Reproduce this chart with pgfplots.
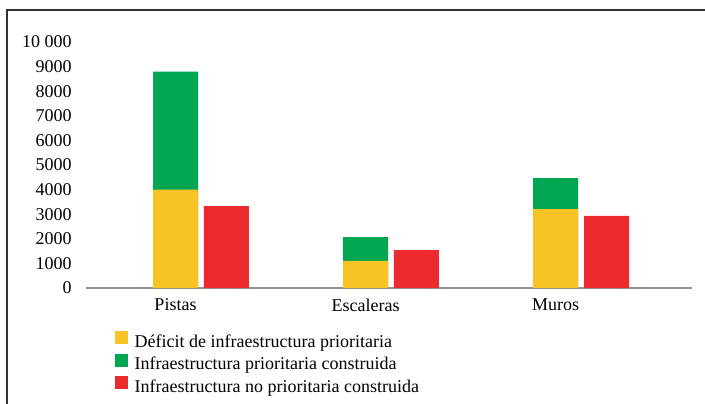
\documentclass[border=0pt]{standalone}
\usepackage{fontspec}
\setmainfont{Liberation Serif}
\usepackage{pgfplots}
\pgfplotsset{compat=1.18}
\definecolor{cyel}{RGB}{247,195,37}
\definecolor{cgrn}{RGB}{0,166,81}
\definecolor{cred}{RGB}{237,43,47}
\begin{document}
\begin{tikzpicture}
\useasboundingbox (0pt,0pt) rectangle (528.75pt,302.25pt);
\draw[line width=1.4pt, color=black!80] (5.25pt,-2pt) -- (5.25pt,294.75pt) -- (530pt,294.75pt);
\begin{axis}[
  scale only axis, width=454.5pt, height=184.5pt,
  at={(64.5pt,86.25pt)}, anchor=south west,
  xmin=-0.471, xmax=2.718, ymin=0, ymax=10000,
  scaled y ticks=false,
  axis lines*=left,
  x axis line style={color=gray!85, line width=0.9pt, -},
  y axis line style={draw=none},
  xtick={0,1,2}, xticklabels={Pistas,Escaleras,Muros},
  ytick={0,1000,2000,3000,4000,5000,6000,7000,8000,9000,10000},
  yticklabels={0,1000,2000,3000,4000,5000,6000,7000,8000,9000,10 000},
  major tick length=0pt, tick style={draw=none},
  tick label style={font=\fontsize{13.5}{16}\selectfont},
  yticklabel style={inner sep=0pt, xshift=-10.5pt},
  xticklabel style={inner sep=0pt, yshift=-8pt},
  clip=false,
  legend image code/.code={\fill[#1, draw=none] (0pt,-0.75pt) rectangle (9.75pt,9pt); \path (14.5pt,0pt);},
  legend style={at={(0.0479,-0.175)}, anchor=north west, draw=none, fill=none, inner sep=0pt,
    font=\fontsize{13.5}{16}\selectfont, row sep=1.8pt,
    nodes={inner sep=0pt, text height=9pt, text depth=3pt}},
  legend cell align=left,
]
\addlegendimage{fill=cyel, draw=none}
\addlegendentry{Déficit de infraestructura prioritaria}
\addlegendimage{fill=cgrn, draw=none}
\addlegendentry{Infraestructura prioritaria construida}
\addlegendimage{fill=cred, draw=none}
\addlegendentry{Infraestructura no prioritaria construida}
\addplot[ybar, bar width=33.75pt, bar shift=0pt, fill=cgrn, draw=none, forget plot] coordinates {(0,8800) (1,2070) (2,4470)};
\addplot[ybar, bar width=33.75pt, bar shift=0pt, fill=cyel, draw=none, forget plot] coordinates {(0,4000) (1,1100) (2,3210)};
\addplot[ybar, bar width=33.75pt, bar shift=0pt, fill=cred, draw=none, forget plot] coordinates {(0.268,3330) (1.268,1540) (2.268,2930)};
\end{axis}
\end{tikzpicture}
\end{document}
